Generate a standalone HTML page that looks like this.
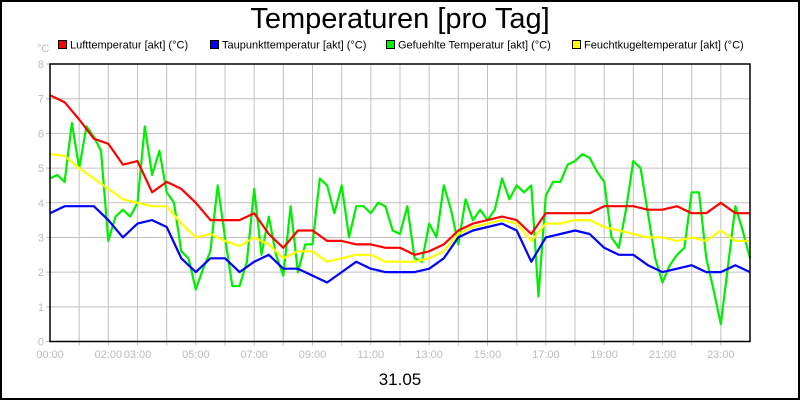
<!DOCTYPE html>
<html><head><meta charset="utf-8"><style>
body{margin:0;background:#fff}
svg{display:block;font-family:"Liberation Sans",sans-serif}
</style></head><body>
<svg id="c" width="800" height="400">
<rect x="1" y="1" width="798" height="398" fill="#fff" stroke="#000" stroke-width="2"/>
<text x="400" y="28" font-size="29" text-anchor="middle">Temperaturen [pro Tag]</text>
<text x="37" y="52" font-size="11" fill="#bbb">°C</text>
<g id="legend" font-size="11"></g>
<g id="grid"></g><g id="ticks" font-size="11" fill="#bbb"></g><g id="series"></g>
<rect x="50" y="64" width="700" height="277.5" fill="none" stroke="#000" stroke-width="1.5"/>
<text x="400" y="385" font-size="17" text-anchor="middle">31.05</text>
</svg>
<script>
const yTicks=[0,1,2,3,4,5,6,7,8];
const xTickHours=[0,2,3,5,7,9,11,13,15,17,19,21,23];
const xTickLabels=["00:00","02:00","03:00","05:00","07:00","09:00","11:00","13:00","15:00","17:00","19:00","21:00","23:00"];
const seriesNames=["Lufttemperatur [akt] (°C)","Taupunkttemperatur [akt] (°C)","Gefuehlte Temperatur [akt] (°C)","Feuchtkugeltemperatur [akt] (°C)"];
const seriesColors=["#ff0000","#0000ff","#00ee00","#ffff00"];
const luft=[7.1,6.9,6.4,5.85,5.7,5.1,5.2,4.3,4.6,4.4,4.0,3.5,3.5,3.5,3.7,3.1,2.7,3.2,3.2,2.9,2.9,2.8,2.8,2.7,2.7,2.5,2.6,2.8,3.2,3.4,3.5,3.6,3.5,3.1,3.7,3.7,3.7,3.7,3.9,3.9,3.9,3.8,3.8,3.9,3.7,3.7,4.0,3.7,3.7];
const taupunkt=[3.7,3.9,3.9,3.9,3.5,3.0,3.4,3.5,3.3,2.4,2.0,2.4,2.4,2.0,2.3,2.5,2.1,2.1,1.9,1.7,2.0,2.3,2.1,2.0,2.0,2.0,2.1,2.4,3.0,3.2,3.3,3.4,3.2,2.3,3.0,3.1,3.2,3.1,2.7,2.5,2.5,2.2,2.0,2.1,2.2,2.0,2.0,2.2,2.0];
const feucht=[5.4,5.35,5.0,4.7,4.4,4.1,4.0,3.9,3.9,3.4,3.0,3.1,2.9,2.75,3.0,2.8,2.4,2.6,2.6,2.3,2.4,2.5,2.5,2.3,2.3,2.3,2.4,2.6,3.1,3.3,3.4,3.5,3.4,2.9,3.4,3.4,3.5,3.5,3.3,3.2,3.1,3.0,3.0,2.9,3.0,2.9,3.2,2.9,2.9];
const gefuehlt=[4.7,4.8,4.6,6.3,5.0,6.2,5.9,5.5,2.9,3.6,3.8,3.6,4.0,6.2,4.8,5.5,4.3,4.0,2.6,2.4,1.5,2.1,2.6,4.5,3.0,1.6,1.6,2.3,4.4,2.5,3.6,2.5,1.9,3.9,2.0,2.8,2.8,4.7,4.5,3.7,4.5,3.0,3.9,3.9,3.7,4.0,3.9,3.2,3.1,3.9,2.4,2.3,3.4,3.0,4.5,3.8,2.8,4.1,3.5,3.8,3.5,3.8,4.7,4.1,4.5,4.3,4.5,1.3,4.2,4.6,4.6,5.1,5.2,5.4,5.3,4.9,4.6,3.0,2.7,3.8,5.2,5.0,3.7,2.4,1.7,2.2,2.5,2.7,4.3,4.3,2.4,1.5,0.5,2.2,3.9,3.2,2.4];
const NS="http://www.w3.org/2000/svg";
const L=50,R=750,T=64,B=341.5;
const xs=h=>L+(R-L)*h/24, ys=v=>B-(B-T)*v/8;
const grid=document.getElementById('grid'),ticks=document.getElementById('ticks'),ser=document.getElementById('series'),leg=document.getElementById('legend');
function mk(tag,at,parent){const e=document.createElementNS(NS,tag);for(const k in at)e.setAttribute(k,at[k]);parent.appendChild(e);return e;}
for(let h=1;h<24;h++){
  const l=mk('line',{x1:xs(h),x2:xs(h),y1:T,y2:B+4,stroke:'#c0c0c0'},grid);
  
  
}
yTicks.forEach(v=>{
  const l=mk('line',{x1:L-4,x2:R,y1:ys(v),y2:ys(v),stroke:'#c0c0c0'},grid);
  
  
  const t=mk('text',{x:44,y:ys(v)+4,'text-anchor':'end'},ticks);t.textContent=v;
  
  
});
xTickHours.forEach((h,i)=>{
  const t=mk('text',{x:xs(h),y:358,'text-anchor':'middle'},ticks);t.textContent=xTickLabels[i];
  
  
});
const data=[luft,taupunkt,gefuehlt,feucht];
const order=[2,3,0,1];
order.forEach(i=>{
  const d=data[i],n=d.length-1;
  const pts=d.map((v,j)=>xs(24*j/n).toFixed(1)+','+ys(v).toFixed(1)).join(' ');
  const p=mk('polyline',{points:pts,fill:'none',stroke:seriesColors[i],'stroke-width':2.2,'stroke-linejoin':'round'},ser);
  
  
});
const lx=[58,210,386,572];
seriesNames.forEach((nm,i)=>{
  const r=mk('rect',{x:lx[i]+0.5,y:40.5,width:8,height:8,fill:seriesColors[i],stroke:'#000'},leg);
  
  
  const t=mk('text',{x:lx[i]+12,y:48.5},leg);t.textContent=nm;
  
  
});
</script>
</body></html>
